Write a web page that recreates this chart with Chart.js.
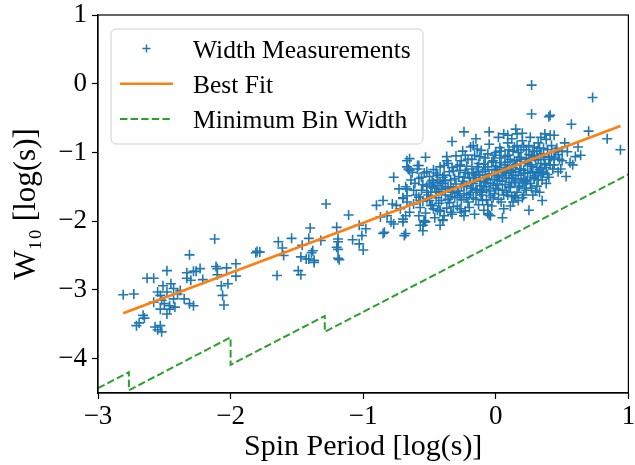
<!DOCTYPE html>
<html>
<head>
<meta charset="utf-8">
<script src="https://cdn.jsdelivr.net/npm/chart.js@4.4.0/dist/chart.umd.min.js"></script>
<style>
    html, body { margin: 0; padding: 0; background: #fff; }
</style>
</head>
<body>
<canvas id="widthChart" width="635" height="465"></canvas>
<script>
// axis ticks
const xTicks = [-3, -2, -1, 0, 1];
const yTicks = [-4, -3, -2, -1, 0, 1];

const leftGroup = [
    [-2.81, -3.07], [-2.73, -3.06], [-2.66, -3.37], [-2.65, -3.41], [-2.71, -3.52], [-2.69, -3.48],
    [-2.57, -3.54], [-2.53, -3.52], [-2.55, -3.58], [-2.52, -3.61], [-2.63, -2.83], [-2.58, -2.83],
    [-2.48, -2.72], [-2.51, -2.94], [-2.45, -2.91], [-2.43, -2.98], [-2.48, -3.03], [-2.53, -3.08],
    [-2.52, -3.15], [-2.50, -3.20], [-2.46, -3.23], [-2.43, -3.13], [-2.40, -3.06], [-2.46, -3.28],
    [-2.53, -3.28], [-2.48, -3.35], [-2.42, -3.25], [-2.38, -3.01], [-2.35, -3.13], [-2.31, -3.20],
    [-2.28, -3.23], [-2.58, -3.18], [-2.55, -3.03], [-2.31, -2.49], [-2.33, -2.75], [-2.28, -2.73],
    [-2.26, -2.73], [-2.23, -2.69], [-2.33, -2.83], [-2.30, -2.86], [-2.21, -2.85], [-2.12, -2.26],
    [-2.11, -2.66], [-2.10, -2.69], [-2.03, -2.68], [-1.96, -2.62], [-1.96, -2.80], [-2.10, -2.78],
    [-2.07, -2.94], [-2.02, -2.91], [-2.06, -3.08], [-2.05, -3.22]
];

const midGroup = [
    [-1.81, -2.46], [-1.80, -2.44], [-1.78, -2.45], [-1.64, -2.30], [-1.61, -2.39], [-1.60, -2.50],
    [-1.65, -2.79], [-1.54, -2.25], [-1.46, -2.35], [-1.49, -2.72], [-1.47, -2.78], [-1.40, -2.10],
    [-1.41, -2.25], [-1.38, -2.43], [-1.39, -2.46], [-1.37, -2.57], [-1.37, -2.60], [-1.41, -2.55],
    [-1.43, -2.55], [-1.47, -2.52], [-1.32, -2.28], [-1.28, -1.75], [-1.20, -2.09], [-1.19, -2.26],
    [-1.19, -2.30], [-1.20, -2.38], [-1.19, -2.41], [-1.19, -2.54], [-1.18, -2.56], [-1.11, -1.91],
    [-1.08, -2.27], [-1.03, -2.06], [-1.01, -2.21], [-0.98, -2.11], [-1.03, -2.33], [-1.00, -2.42],
    [-0.90, -1.77], [-0.85, -1.70], [-0.78, -1.75], [-0.75, -1.77], [-0.70, -1.66], [-0.68, -1.50],
    [-0.67, -1.63], [-0.87, -1.94], [-0.82, -1.92], [-0.79, -2.01], [-0.77, -2.04], [-0.70, -2.01],
    [-0.68, -1.92], [-0.84, -2.16], [-0.85, -2.18], [-0.69, -2.21], [-0.68, -2.18], [-0.77, -1.36],
    [-0.73, -1.53], [-0.67, -1.53], [-0.70, -1.67], [-0.67, -1.72], [-0.72, -1.82], [-0.65, -1.87],
    [-0.70, -1.97], [-0.67, -1.12], [-0.66, -1.24], [-0.65, -1.09], [-0.67, -1.21], [-0.65, -1.26],
    [-0.63, -1.29], [-0.59, -1.19], [-0.58, -1.19], [-0.59, -1.24], [-0.58, -1.92], [-0.54, -1.99],
    [-0.55, -2.06], [-0.53, -2.01], [-0.55, -2.14], [-0.57, -2.06], [-0.54, -2.01], [-0.42, -2.06],
    [-0.40, -1.99], [-0.24, -1.92], [-0.26, -1.87], [-0.06, -1.89], [-0.62, -1.75], [-0.57, -1.70],
    [-0.52, -1.67], [-0.49, -1.77], [-0.47, -1.82], [-0.42, -1.84], [-0.39, -1.92], [-0.34, -1.87],
    [-0.32, -1.79], [-0.27, -1.82]
];

const upperGroup = [
    [-0.53, -1.07], [-0.37, -1.12], [-0.39, -1.19], [-0.44, -1.33], [-0.48, -1.41], [-0.50, -1.46],
    [-0.44, -1.48], [-0.42, -1.43], [-0.33, -0.84], [-0.24, -0.70], [-0.15, -0.80], [-0.17, -0.90],
    [-0.05, -0.70], [0.06, -0.73], [0.15, -0.66], [0.16, -0.73], [0.09, -0.75], [0.27, -0.44],
    [0.27, -0.02], [0.02, -0.78], [0.12, -0.80], [0.20, -0.72], [0.73, -0.20], [0.40, -0.48],
    [0.41, -0.46], [0.57, -0.59], [0.70, -0.69], [0.84, -0.80], [0.94, -0.96], [0.62, -0.92],
    [0.64, -1.04], [0.60, -1.06], [0.56, -1.15], [0.49, -1.24], [0.47, -1.03], [0.54, -0.99],
    [0.52, -0.86], [0.44, -0.75], [0.37, -0.73], [0.41, -0.75], [0.34, -0.78], [0.40, -1.07],
    [0.37, -1.16], [0.32, -1.29], [0.34, -1.31], [0.14, -1.63], [0.29, -1.38], [-0.05, -1.91]
];

const coreA = [
    [-0.61, -1.45], [-0.60, -1.62], [-0.58, -1.38], [-0.57, -1.80], [-0.56, -1.55], [-0.55, -1.71],
    [-0.54, -1.30], [-0.53, -1.88], [-0.52, -1.49], [-0.51, -1.62], [-0.50, -1.35], [-0.49, -1.58],
    [-0.48, -1.77], [-0.47, -1.25], [-0.46, -1.52], [-0.46, -1.95], [-0.45, -1.66], [-0.44, -1.40],
    [-0.44, -1.84], [-0.43, -1.57], [-0.42, -1.21], [-0.41, -1.70], [-0.40, -1.45], [-0.40, -1.98],
    [-0.39, -1.33], [-0.38, -1.62], [-0.37, -1.81], [-0.36, -1.50], [-0.36, -1.16], [-0.35, -1.73],
    [-0.34, -1.40], [-0.33, -1.58], [-0.33, -1.90], [-0.32, -1.27], [-0.31, -1.66], [-0.30, -1.46],
    [-0.30, -1.05], [-0.29, -1.78], [-0.28, -1.35], [-0.28, -1.56], [-0.27, -1.18], [-0.26, -1.69],
    [-0.25, -1.42], [-0.25, -0.98], [-0.24, -1.60], [-0.23, -1.29], [-0.23, -1.85], [-0.22, -1.49],
    [-0.21, -1.10], [-0.21, -1.72], [-0.20, -1.37], [-0.19, -1.58], [-0.19, -0.92], [-0.18, -1.24],
    [-0.17, -1.66], [-0.17, -1.45], [-0.16, -1.04], [-0.16, -1.90], [-0.15, -1.33], [-0.14, -1.55],
    [-0.13, -1.16], [-0.13, -1.76], [-0.12, -1.42], [-0.11, -0.97], [-0.11, -1.62], [-0.10, -1.28],
    [-0.09, -1.50], [-0.09, -1.84], [-0.08, -1.08], [-0.07, -1.38], [-0.07, -1.69], [-0.06, -1.21],
    [-0.05, -1.56], [-0.05, -0.88], [-0.04, -1.45], [-0.03, -1.31], [-0.03, -1.78], [-0.02, -1.12],
    [-0.01, -1.60], [-0.01, -1.39], [0.00, -1.00], [0.00, -1.52]
];

const coreB = [
    [0.01, -1.25], [0.02, -1.68], [0.03, -1.41], [0.03, -0.93], [0.04, -1.15], [0.05, -1.55],
    [0.05, -1.33], [0.06, -1.82], [0.07, -1.06], [0.07, -1.47], [0.08, -1.24], [0.09, -0.86],
    [0.09, -1.62], [0.10, -1.37], [0.11, -1.10], [0.11, -1.51], [0.12, -1.29], [0.13, -0.98],
    [0.13, -1.72], [0.14, -1.43], [0.15, -1.18], [0.16, -1.58], [0.16, -0.90], [0.17, -1.33],
    [0.18, -1.07], [0.18, -1.49], [0.19, -1.24], [0.20, -0.83], [0.20, -1.66], [0.21, -1.40],
    [0.22, -1.14], [0.23, -0.96], [0.23, -1.55], [0.24, -1.30], [0.25, -1.03], [0.26, -1.45],
    [0.26, -0.78], [0.27, -1.20], [0.28, -1.62], [0.29, -0.92], [0.29, -1.36], [0.30, -1.11],
    [0.31, -1.49], [0.32, -0.86], [0.33, -1.25], [0.34, -1.02], [0.35, -1.40], [0.36, -0.94],
    [0.37, -1.18], [0.38, -0.81], [0.39, -1.32], [0.40, -1.10], [0.42, -0.90], [0.43, -1.24],
    [0.45, -0.99]
];

const coreC = [
    [-0.55, -1.47], [-0.50, -1.70], [-0.45, -1.30], [-0.42, -1.86], [-0.38, -1.41], [-0.35, -1.28],
    [-0.32, -1.52], [-0.27, -1.63], [-0.24, -1.36], [-0.22, -1.20], [-0.20, -1.80], [-0.18, -1.52],
    [-0.15, -1.68], [-0.14, -1.21], [-0.12, -1.33], [-0.10, -1.70], [-0.08, -1.44], [-0.06, -1.02],
    [-0.04, -1.63], [-0.02, -1.48], [0.00, -1.20], [0.02, -1.36], [0.04, -1.72], [0.06, -1.28],
    [0.08, -1.58], [0.10, -0.96], [0.12, -1.44], [0.14, -1.12], [0.15, -1.66], [0.17, -1.00],
    [0.19, -1.38], [0.21, -0.92], [0.22, -1.52], [0.24, -1.16], [0.26, -1.30], [0.28, -0.99],
    [0.31, -1.22], [0.33, -1.58], [0.36, -1.30], [0.41, -1.18], [-0.58, -1.65], [-0.52, -1.28],
    [-0.47, -1.44], [-0.41, -1.54], [-0.37, -1.06], [-0.34, -1.64], [-0.29, -1.20], [-0.26, -1.50],
    [-0.23, -1.04], [-0.20, -1.62], [-0.17, -1.30], [-0.14, -0.95], [-0.12, -1.58], [-0.09, -1.17],
    [-0.06, -1.40], [-0.04, -1.92], [-0.01, -1.25], [0.01, -1.46], [0.03, -1.08], [0.05, -1.95],
    [0.07, -1.30], [0.09, -1.14], [0.11, -1.78], [0.13, -1.22], [0.15, -1.40], [0.17, -1.70],
    [0.19, -1.10], [0.21, -1.26], [0.23, -1.42], [0.25, -1.84], [0.27, -1.04], [0.30, -1.56],
    [0.32, -1.10], [0.35, -1.70], [0.38, -1.45], [0.44, -1.08], [0.47, -1.28], [0.50, -1.12],
    [0.53, -1.35], [0.58, -1.18]
];

const coreD = [
    [-0.31, -1.38], [-0.29, -1.60], [-0.27, -1.26], [-0.26, -1.12], [-0.24, -1.48], [-0.22, -1.66],
    [-0.21, -1.31], [-0.19, -1.44], [-0.18, -1.10], [-0.16, -1.36], [-0.15, -1.54], [-0.13, -1.28],
    [-0.12, -1.06], [-0.11, -1.48], [-0.10, -1.58], [-0.08, -1.25], [-0.07, -1.54], [-0.06, -1.76],
    [-0.05, -1.32], [-0.03, -1.14], [-0.02, -1.66], [-0.01, -1.04], [0.01, -1.34], [0.02, -1.54],
    [0.03, -1.22], [0.04, -0.98], [0.05, -1.42], [0.06, -1.62], [0.07, -1.18], [0.08, -1.38],
    [0.09, -1.04], [0.10, -1.50], [0.11, -1.26], [0.12, -1.64], [0.13, -1.34], [0.14, -0.92],
    [0.15, -1.28], [0.16, -1.12], [0.17, -1.50], [0.18, -1.24], [0.19, -0.96], [0.20, -1.44],
    [0.21, -1.62], [0.22, -1.30], [0.23, -1.08], [0.24, -1.40], [0.25, -0.90], [0.26, -1.18],
    [0.27, -1.52], [0.28, -1.28], [0.29, -1.06], [0.30, -1.34], [0.31, -0.98], [0.32, -1.40],
    [0.33, -0.94], [0.34, -1.16], [0.35, -1.28], [0.36, -1.06], [0.38, -1.22], [0.39, -0.96],
    [0.40, -1.36], [0.42, -1.06], [0.44, -1.18], [0.46, -0.94], [0.48, -1.10], [0.50, -0.98],
    [-0.45, -1.58], [-0.43, -1.74], [-0.40, -1.36], [-0.38, -1.52], [-0.36, -1.68], [-0.34, -1.50],
    [-0.33, -1.22], [-0.48, -1.50], [-0.52, -1.58], [-0.56, -1.36], [-0.62, -1.55], [-0.64, -1.40]
];

// best fit end points
const fitX = [-2.81, 0.94];
const fitY = [-3.34, -0.615];

// minimum bin width (steps where the sampling time changes)
const binX = [-3, -2.767, -2.767, -2, -2, -1.29, -1.29, 1];
const binY = [-4.43, -4.197, -4.46, -3.69, -4.09, -3.38, -3.61, -1.32];

document.addEventListener('DOMContentLoaded', function () {
    const canvas = document.getElementById('widthChart');
    const serif = "'Liberation Serif', 'Times New Roman', serif";
    const blue = '#1f77b4';
    const orange = '#ff7f0e';
    const green = '#2ca02c';

    const measured = [].concat(leftGroup, midGroup, upperGroup, coreA, coreB, coreC, coreD)
        .map(p => ({ x: p[0], y: p[1] }));
    const fitLine = fitX.map((x, i) => ({ x: x, y: fitY[i] }));
    const binLine = binX.map((x, i) => ({ x: x, y: binY[i] }));

    const minusTick = (v) => (v < 0 ? '\u2212' + Math.abs(v) : String(v));

    // matplotlib-like frame and legend inside the axes
    const frameAndLegend = {
        id: 'frameAndLegend',
        afterDraw(chart) {
            const ctx = chart.ctx;
            const a = chart.chartArea;
            ctx.save();
            ctx.strokeStyle = '#000';
            ctx.lineWidth = 1.2;
            ctx.strokeRect(a.left, a.top, a.right - a.left, a.bottom - a.top);

            const bx = a.left + 13, by = a.top + 14, bw = 312, bh = 115, r = 5;
            ctx.beginPath();
            ctx.moveTo(bx + r, by);
            ctx.lineTo(bx + bw - r, by);
            ctx.arcTo(bx + bw, by, bx + bw, by + r, r);
            ctx.lineTo(bx + bw, by + bh - r);
            ctx.arcTo(bx + bw, by + bh, bx + bw - r, by + bh, r);
            ctx.lineTo(bx + r, by + bh);
            ctx.arcTo(bx, by + bh, bx, by + bh - r, r);
            ctx.lineTo(bx, by + r);
            ctx.arcTo(bx, by, bx + r, by, r);
            ctx.closePath();
            ctx.fillStyle = 'rgba(255,255,255,0.8)';
            ctx.fill();
            ctx.strokeStyle = '#d0d0d0';
            ctx.lineWidth = 1;
            ctx.stroke();

            ctx.font = '25.5px ' + serif;
            ctx.textBaseline = 'alphabetic';
            chart.data.datasets.forEach((ds, i) => {
                const cy = by + 19.5 + i * 35.3;
                if (ds.showLine === false) {
                    ctx.strokeStyle = ds.borderColor;
                    ctx.lineWidth = 1.5;
                    ctx.setLineDash([]);
                    ctx.beginPath();
                    ctx.moveTo(bx + 31.5, cy);
                    ctx.lineTo(bx + 39.5, cy);
                    ctx.moveTo(bx + 35.5, cy - 4);
                    ctx.lineTo(bx + 35.5, cy + 4);
                    ctx.stroke();
                } else {
                    ctx.strokeStyle = ds.borderColor;
                    ctx.lineWidth = ds.borderWidth;
                    ctx.setLineDash(ds.borderDash || []);
                    ctx.beginPath();
                    ctx.moveTo(bx + 9, cy);
                    ctx.lineTo(bx + 62, cy);
                    ctx.stroke();
                    ctx.setLineDash([]);
                }
                ctx.fillStyle = '#000';
                ctx.fillText(ds.label, bx + 82, cy + 9);
            });
            ctx.restore();
        }
    };

    new Chart(canvas, {
        type: 'scatter',
        data: {
            datasets: [
                {
                    label: 'Width Measurements',
                    data: measured,
                    showLine: false,
                    pointStyle: 'cross',
                    pointRadius: 5,
                    pointHoverRadius: 5,
                    borderColor: blue,
                    backgroundColor: blue,
                    borderWidth: 1.6,
                    order: 3
                },
                {
                    label: 'Best Fit',
                    data: fitLine,
                    showLine: true,
                    pointRadius: 0,
                    borderColor: orange,
                    borderWidth: 2.6,
                    order: 2
                },
                {
                    label: 'Minimum Bin Width',
                    data: binLine,
                    showLine: true,
                    pointRadius: 0,
                    borderColor: green,
                    borderWidth: 2,
                    borderDash: [7.4, 3.2],
                    order: 1
                }
            ]
        },
        options: {
            responsive: false,
            animation: false,
            devicePixelRatio: 1,
            layout: { padding: { top: 15, right: 5, left: 0, bottom: 0 } },
            plugins: {
                legend: { display: false },
                tooltip: { enabled: false }
            },
            scales: {
                x: {
                    type: 'linear',
                    min: -3,
                    max: 1,
                    afterBuildTicks: (s) => { s.ticks = xTicks.map(v => ({ value: v })); },
                    afterFit: (s) => { s.height = 72; s.paddingLeft = 0; s.paddingRight = 0; },
                    ticks: {
                        callback: minusTick,
                        color: '#000',
                        padding: 2,
                        maxRotation: 0,
                        font: { family: serif, size: 27 }
                    },
                    grid: {
                        drawOnChartArea: false,
                        drawTicks: true,
                        tickLength: 6,
                        tickColor: '#000',
                        tickWidth: 1.2
                    },
                    border: { color: '#000', width: 1.2 },
                    title: {
                        display: true,
                        text: 'Spin Period [log(s)]',
                        color: '#000',
                        font: { family: serif, size: 30 },
                        padding: { top: 0, bottom: 0 }
                    }
                },
                y: {
                    type: 'linear',
                    min: -4.5,
                    max: 1,
                    afterBuildTicks: (s) => { s.ticks = yTicks.map(v => ({ value: v })); },
                    afterFit: (s) => { s.width = 98; s.paddingTop = 0; s.paddingBottom = 0; },
                    ticks: {
                        callback: minusTick,
                        color: '#000',
                        padding: 5,
                        font: { family: serif, size: 27 }
                    },
                    grid: {
                        drawOnChartArea: false,
                        drawTicks: true,
                        tickLength: 6,
                        tickColor: '#000',
                        tickWidth: 1.2
                    },
                    border: { color: '#000', width: 1.2 },
                    title: {
                        display: true,
                        text: 'W\u2081\u2080 [log(s)]',
                        color: '#000',
                        font: { family: serif, size: 31 },
                        padding: { top: 8, bottom: 0 }
                    }
                }
            }
        },
        plugins: [frameAndLegend]
    });
});
</script>
</body>
</html>
